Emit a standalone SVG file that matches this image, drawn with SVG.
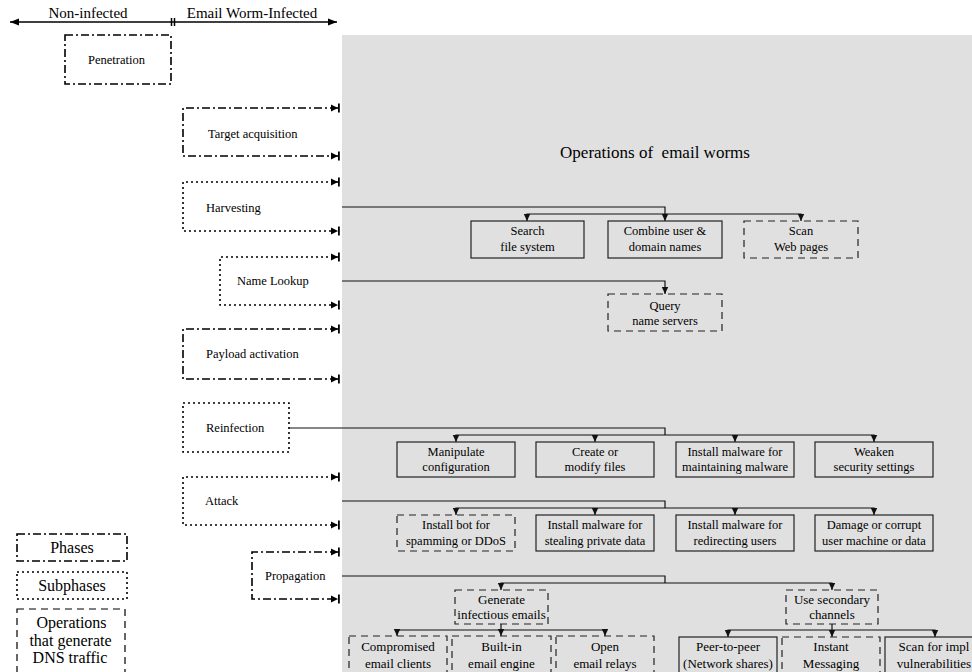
<svg xmlns="http://www.w3.org/2000/svg" width="972" height="672" viewBox="0 0 972 672" font-family="'Liberation Serif', 'Times New Roman', 'DejaVu Serif', serif">
<style>
text{font-family:'Liberation Serif','Times New Roman','DejaVu Serif',serif;fill:#000}
.ph{font-size:12.5px}
.op{font-size:12.5px;text-anchor:middle}
.op2{font-size:13px;text-anchor:middle}
.lg{font-size:16px;text-anchor:middle}
.hd{font-size:15px;text-anchor:middle}
.tt{font-size:17px;text-anchor:middle;white-space:pre}
.dd{fill:none;stroke:#000;stroke-width:1.6;stroke-dasharray:8 3 2 3}
.dt{fill:none;stroke:#000;stroke-width:1.6;stroke-dasharray:2 3}
.ds{fill:none;stroke:#222;stroke-width:1.2;stroke-dasharray:7 5}
.so{fill:none;stroke:#222;stroke-width:1.2}
.cn{fill:none;stroke:#111;stroke-width:1.2}
</style>
<defs>
<marker id="tb" markerUnits="userSpaceOnUse" viewBox="-9 -6 12 12" refX="0" refY="0" markerWidth="12" markerHeight="12" orient="auto-start-reverse"><path d="M-7,-3.5 L0,0 L-7,3.5 Z M0,-4.5 H1.8 V4.5 H0 Z" fill="#000"/></marker>
<marker id="ah" markerUnits="userSpaceOnUse" viewBox="-10 -5 11 10" refX="0" refY="0" markerWidth="11" markerHeight="10" orient="auto-start-reverse"><path d="M-9,-3.5 L0,0 L-9,3.5 Z" fill="#000"/></marker>
<marker id="ad" markerUnits="userSpaceOnUse" viewBox="-8 -4 9 8" refX="0" refY="0" markerWidth="9" markerHeight="8" orient="auto-start-reverse"><path d="M-7,-3.2 L0,0 L-7,3.2 Z" fill="#111"/></marker>
</defs>
<rect x="342" y="35" width="630" height="637" fill="#e0e0e0"/>
<g id="header">
<path d="M10,22 H337" fill="none" stroke="#000" stroke-width="1.5" marker-start="url(#ah)" marker-end="url(#ah)"/>
<path d="M171.5,18 V26 M174.5,18 V26" stroke="#000" stroke-width="1.5"/>
<text class="hd" x="88" y="18">Non-infected</text>
<text class="hd" x="252" y="18">Email Worm-Infected</text>
</g>
<text class="tt" x="655" y="157.5">Operations of  email worms</text>
<g id="penetration"><rect class="dd" x="65" y="35" width="106" height="49"/><text class="ph" x="88" y="64">Penetration</text></g>
<g id="target"><path class="dd" d="M338,108 H183 V156 H338" marker-start="url(#tb)" marker-end="url(#tb)"/><text class="ph" x="208" y="137.5">Target acquisition</text></g>
<g id="harvesting"><path class="dt" d="M338,182 H183 V231 H338" marker-start="url(#tb)" marker-end="url(#tb)"/><text class="ph" x="206" y="211.5">Harvesting</text></g>
<g id="namelookup"><path class="dt" d="M338,257 H220 V305 H338" marker-start="url(#tb)" marker-end="url(#tb)"/><text class="ph" x="237" y="285">Name Lookup</text></g>
<g id="payload"><path class="dd" d="M338,329 H183 V379 H338" marker-start="url(#tb)" marker-end="url(#tb)"/><text class="ph" x="206" y="358">Payload activation</text></g>
<g id="reinfection"><rect class="dt" x="183" y="403" width="106" height="49"/><text class="ph" x="206" y="432">Reinfection</text></g>
<g id="attack"><path class="dt" d="M338,477 H183 V525 H338" marker-start="url(#tb)" marker-end="url(#tb)"/><text class="ph" x="205" y="505">Attack</text></g>
<g id="propagation"><path class="dd" d="M338,552 H252 V599 H338" marker-start="url(#tb)" marker-end="url(#tb)"/><text class="ph" x="265" y="580">Propagation</text></g>

<g id="connectors">
<path class="cn" d="M342,207 H665 V221" marker-end="url(#ad)"/>
<path class="cn" d="M527,221 V214 H801 V221" marker-start="url(#ad)" marker-end="url(#ad)"/>
<path class="cn" d="M342,281 H665 V294" marker-end="url(#ad)"/>
<path class="cn" d="M289,428 H665 V435"/>
<path class="cn" d="M456,442 V435 H874 V442" marker-start="url(#ad)" marker-end="url(#ad)"/>
<path class="cn" d="M595,435 V442" marker-end="url(#ad)"/>
<path class="cn" d="M735,435 V442" marker-end="url(#ad)"/>
<path class="cn" d="M342,501 H665 V508"/>
<path class="cn" d="M456,515 V508 H874 V515" marker-start="url(#ad)" marker-end="url(#ad)"/>
<path class="cn" d="M595,508 V515" marker-end="url(#ad)"/>
<path class="cn" d="M735,508 V515" marker-end="url(#ad)"/>
<path class="cn" d="M342,576 H665 V583"/>
<path class="cn" d="M501,590 V583 H832 V590" marker-start="url(#ad)" marker-end="url(#ad)"/>
<path class="cn" d="M501,624 V636" marker-end="url(#ad)"/>
<path class="cn" d="M397,636 V630 H605 V636" marker-start="url(#ad)" marker-end="url(#ad)"/>
<path class="cn" d="M832,624 V637" marker-end="url(#ad)"/>
<path class="cn" d="M728,637 V630 H935 V637" marker-start="url(#ad)" marker-end="url(#ad)"/>
</g>

<g id="search"><rect class="so" x="471" y="221" width="113" height="37"/><text class="op" x="527.5" y="235">Search</text><text class="op" x="527.5" y="251">file system</text></g>
<g id="combine"><rect class="so" x="608" y="221" width="114" height="37"/><text class="op" x="665" y="235">Combine user &amp;</text><text class="op" x="665" y="251">domain names</text></g>
<g id="scanweb"><rect class="ds" x="744" y="221" width="114" height="37"/><text class="op" x="801" y="235">Scan</text><text class="op" x="801" y="251">Web pages</text></g>
<g id="query"><rect class="ds" x="608" y="294" width="114" height="37"/><text class="op" x="665" y="309.5">Query</text><text class="op" x="665" y="325">name servers</text></g>

<g id="manipulate"><rect class="so" x="397" y="442" width="118" height="35"/><text class="op" x="456" y="456">Manipulate</text><text class="op" x="456" y="471">configuration</text></g>
<g id="create"><rect class="so" x="536" y="442" width="118" height="35"/><text class="op" x="595" y="456">Create or</text><text class="op" x="595" y="471">modify files</text></g>
<g id="maintain"><rect class="so" x="676" y="442" width="118" height="35"/><text class="op" x="735" y="456">Install malware for</text><text class="op" x="735" y="471">maintaining  malware</text></g>
<g id="weaken"><rect class="so" x="815" y="442" width="118" height="35"/><text class="op" x="874" y="456">Weaken</text><text class="op" x="874" y="471">security settings</text></g>

<g id="bot"><rect class="ds" x="397" y="515" width="118" height="36"/><text class="op" x="456" y="529">Install bot for</text><text class="op" x="456" y="545">spamming or DDoS</text></g>
<g id="stealing"><rect class="so" x="536" y="515" width="118" height="36"/><text class="op" x="595" y="529">Install malware for</text><text class="op" x="595" y="545">stealing private data</text></g>
<g id="redirect"><rect class="so" x="676" y="515" width="118" height="36"/><text class="op" x="735" y="529">Install malware for</text><text class="op" x="735" y="545">redirecting users</text></g>
<g id="damage"><rect class="so" x="815" y="515" width="118" height="36"/><text class="op" x="874" y="529">Damage or corrupt</text><text class="op" x="874" y="545">user machine or data</text></g>

<g id="generate"><rect class="ds" x="455" y="590" width="93" height="34"/><text class="op2" x="501.5" y="604">Generate</text><text class="op2" x="501.5" y="619">infectious emails</text></g>
<g id="secondary"><rect class="ds" x="786" y="590" width="92" height="34"/><text class="op2" x="832" y="604">Use secondary</text><text class="op2" x="832" y="619">channels</text></g>

<g id="compromised"><rect class="ds" x="349" y="636" width="98" height="50"/><text class="op2" x="398" y="651">Compromised</text><text class="op2" x="398" y="668">email clients</text></g>
<g id="builtin"><rect class="ds" x="452" y="636" width="99" height="50"/><text class="op2" x="501.5" y="651">Built-in</text><text class="op2" x="501.5" y="668">email engine</text></g>
<g id="relays"><rect class="ds" x="556" y="636" width="98" height="50"/><text class="op2" x="605" y="651">Open</text><text class="op2" x="605" y="668">email relays</text></g>
<g id="p2p"><rect class="so" x="679" y="637" width="98" height="50"/><text class="op2" x="728" y="651">Peer-to-peer</text><text class="op2" x="728" y="668">(Network shares)</text></g>
<g id="im"><rect class="ds" x="782" y="637" width="98" height="50"/><text class="op2" x="831" y="651">Instant</text><text class="op2" x="831" y="668">Messaging</text></g>
<g id="scanvuln"><rect class="so" x="885" y="637" width="105" height="50"/><text class="op2" x="934" y="651">Scan for impl</text><text class="op2" x="934" y="668">vulnerabilities</text></g>

<g id="legend">
<rect class="dd" x="17" y="534" width="110" height="27"/><text class="lg" x="72" y="553">Phases</text>
<rect class="dt" x="17" y="572" width="110" height="27"/><text class="lg" x="72" y="591">Subphases</text>
<rect class="ds" x="17" y="609" width="108" height="80" style="stroke:#000"/><text class="lg" x="71.5" y="628">Operations</text><text class="lg" x="70.5" y="646">that generate</text><text class="lg" x="70" y="663">DNS traffic</text>
</g>
</svg>
